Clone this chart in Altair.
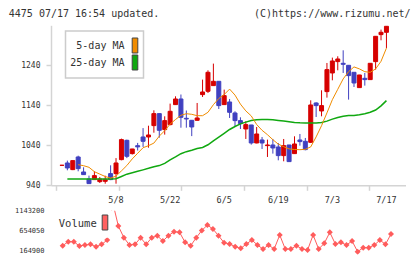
import altair as alt
import numpy as np
import pandas as pd

# Daily candles (oldest first)
opens = [990, 995.8, 979.2, 1010.8, 973.3, 955.8, 954.2, 949.2, 950, 969.2,
         969.2, 1004.2, 1052.5, 1019.2, 1039, 1060.8, 1060.8, 1089.2, 1119.2, 1079.2,
         1091.7, 1141.7, 1155.8, 1107.5, 1102.5, 1102.5, 1166.7, 1175, 1189.2, 1200,
         1141.7, 1148.3, 1120.8, 1101.7, 1080.8, 1090.8, 1045.8, 1053.3, 1039.2, 1040.8,
         1035.8, 1014.2, 1040.8, 1019.2, 1053.3, 1050, 1047.5, 1145.8, 1125.8, 1174.2,
         1220.8, 1249.2, 1245, 1240, 1222.5, 1184.2, 1207.5, 1204.2, 1249.2, 1316.7,
         1322.5]
highs = [991, 1001.7, 1002, 1014, 985, 964.2, 975, 960.8, 964, 990,
         1008, 1056.7, 1054, 1031, 1046, 1083, 1089, 1127.5, 1119.5, 1112.5,
         1144.2, 1162.5, 1167, 1127, 1103, 1145.8, 1204.2, 1227.5, 1244.2, 1200,
         1179.2, 1155.8, 1125, 1110, 1100, 1091, 1085.8, 1060.8, 1054.2, 1055.8,
         1045.8, 1055.8, 1041, 1062.5, 1068.3, 1058.3, 1152.5, 1147.5, 1177.5, 1245.8,
         1259.2, 1262.5, 1277.5, 1240, 1222.5, 1216, 1220.8, 1245, 1312.5, 1329.2,
         1337.5]
lows = [989, 977.5, 978, 975, 966, 944, 954, 945.8, 944, 953,
        944, 1002.5, 1008, 1017, 1027, 1036, 1034, 1071.5, 1059, 1066.7,
        1090, 1141, 1084, 1084, 1063, 1102, 1160.8, 1170.8, 1189, 1130.8,
        1141, 1108.3, 1087.5, 1080.8, 1055.8, 1041.7, 1045, 1030.8, 1010.8, 1019.2,
        1002.5, 1000, 999, 1019, 1039.2, 1027.5, 1045.8, 1110.8, 1112.5, 1159.2,
        1202.5, 1227.5, 1220.8, 1154.2, 1185.8, 1184, 1189.2, 1204, 1229.2, 1302.5,
        1283.3]
closes = [990, 983.3, 1001.7, 981.7, 966.7, 944.2, 964.2, 955.8, 955, 954.2,
          995.8, 1054.2, 1012.5, 1030.8, 1036, 1050, 1065.8, 1119.2, 1077.5, 1101.7,
          1125, 1155.8, 1110, 1105.8, 1085.8, 1108.3, 1173.3, 1222.5, 1200, 1139.2,
          1164.2, 1122.5, 1101.7, 1094.2, 1091.7, 1045.8, 1068.3, 1045.8, 1040.8, 1033.3,
          1014.2, 1039.2, 999.2, 1043.3, 1049.2, 1029.2, 1140.8, 1139.2, 1139.2, 1229.2,
          1250.8, 1255.8, 1242.5, 1214.2, 1195.8, 1215.8, 1204.2, 1245, 1312.5, 1322.5,
          1337.5]

# Moving averages
ma5 = [None, None, None, 991.5, 989, 985, 974, 968, 962, 958,
       963, 976, 989.5, 1006, 1020, 1034, 1039, 1045.5, 1063, 1076.5,
       1093, 1104.5, 1115, 1119, 1117.5, 1114, 1114, 1122.5, 1141.5, 1157,
       1167, 1180.5, 1165.5, 1143, 1126, 1113.5, 1092, 1077.5, 1066.5, 1054,
       1043, 1036.5, 1031, 1029.5, 1029, 1030, 1036, 1061, 1089, 1121,
       1154, 1180, 1206, 1224, 1236, 1231, 1224, 1222.5, 1231, 1250,
       1283]
ma25 = [None, 955.8, 955.8, 955.8, 955.8, 955.8, 955.8, 955.8, 955.8, 955.8,
        956.5, 962, 967.8, 971.3, 974.9, 978.6, 982.4, 986.6, 989.3, 994.8,
        1003.5, 1010.9, 1019, 1024.1, 1027.6, 1031.8, 1034.6, 1041.3, 1051.2, 1060.3,
        1069.7, 1079.5, 1087, 1093.5, 1098, 1102.2, 1103.8, 1104.2, 1104.2, 1103.8,
        1102.3, 1100.6, 1098.8, 1097.3, 1096.2, 1095.8, 1095.8, 1095.8, 1096.9, 1100.5,
        1105.4, 1109.6, 1112.6, 1114.2, 1114.6, 1116.2, 1119.1, 1122.7, 1128.2, 1138.5,
        1151.7]

# Daily volume
volume = [None, 287000, 385000, 385000, 279000, 303500, 319800, 262700, 319800, 425800,
          1340000, 768200, 482850, 303500, 319800, 482850, 319800, 482850, 531760, 401400,
          531760, 629600, 613300, 368700, 287000, 482850, 660000, 792600, 694800, 531760,
          360560, 328000, 262700, 222000, 328000, 425800, 303500, 205700, 303500, 205700,
          548100, 205700, 205700, 287000, 205700, 181200, 548100, 205700, 344200, 613300,
          328000, 368700, 303500, 401400, 140400, 238300, 238300, 303500, 425800, 319800,
          572600]

date_pos = [10, 20, 30, 40, 50, 60]
date_labels = ["5/8", "5/22", "6/5", "6/19", "7/3", "7/17"]
price_ticks = [940, 1040, 1140, 1240]
volume_ticks = [164900, 654050, 1143200]

MONO = "DejaVu Sans Mono"
AXIS_GRAY = "#d4d4d4"
TEXT = "#333333"
UP, DOWN = "#d60000", "#4040c0"
ORANGE, GREEN = "#f08c00", "#10a810"
VOL = "#ff5c5c"

W = 354.5
PRICE_H = 184.3
VOL_H = 44
X_DOMAIN = [-1.1, 62.6]

n = len(closes)
df = pd.DataFrame({
    "i": np.arange(n),
    "open": opens, "high": highs, "low": lows, "close": closes,
    "ma5": ma5, "ma25": ma25, "volume": volume,
})
df["dir"] = np.where(df["close"] >= df["open"], "up", "down")

x_ticks = list(np.linspace(X_DOMAIN[0], X_DOMAIN[1], 12))
x_scale = alt.Scale(domain=X_DOMAIN, nice=False, zero=False)
x_price = alt.X("i:Q", scale=x_scale,
                axis=alt.Axis(values=x_ticks, labels=False, grid=False, title=None,
                              domainColor=AXIS_GRAY, domainWidth=1.5,
                              tickColor=AXIS_GRAY, tickWidth=1.5, tickSize=5,
                              minExtent=20, maxExtent=20))
y_scale = alt.Scale(domain=[940, 1340], range=[PRICE_H, 24.3], nice=False, zero=False)
y_axis = alt.Axis(values=price_ticks, grid=False, title=None, format="d",
                  labelOverlap=False,
                  domainColor=AXIS_GRAY, domainWidth=1.5,
                  tickColor=AXIS_GRAY, tickWidth=1.5, tickSize=5,
                  labelFont=MONO, labelFontSize=8, labelColor=TEXT, labelPadding=6,
                  minExtent=50.5, maxExtent=50.5)
color = alt.Color("dir:N", scale=alt.Scale(domain=["up", "down"], range=[UP, DOWN]), legend=None)
stroke = alt.Stroke("dir:N", scale=alt.Scale(domain=["up", "down"], range=[UP, DOWN]), legend=None)

base = alt.Chart(df)
wicks = base.mark_rule(strokeWidth=1).encode(
    x=x_price, y=alt.Y("low:Q", scale=y_scale, axis=y_axis), y2="high:Q", color=color)
bodies = base.mark_bar(size=4, strokeWidth=1).encode(
    x="i:Q", y="open:Q", y2="close:Q", color=color, stroke=stroke)
line5 = base.mark_line(color=ORANGE, strokeWidth=1).encode(x="i:Q", y="ma5:Q")
line25 = base.mark_line(color=GREEN, strokeWidth=1.5).encode(x="i:Q", y="ma25:Q")

dates = alt.Chart(pd.DataFrame({"i": date_pos, "label": date_labels})).mark_text(
    font=MONO, fontSize=8.5, color=TEXT, baseline="middle").encode(
    x="i:Q", y=alt.value(198.5), text="label:N")

one = pd.DataFrame({"k": [0]})
header_left = alt.Chart(one).mark_text(
    font=MONO, fontSize=10, color=TEXT, align="left", baseline="middle",
    text="4475 07/17 16:54 updated.").encode(x=alt.value(-42.2), y=alt.value(12.7))
header_right = alt.Chart(one).mark_text(
    font=MONO, fontSize=10, color=TEXT, align="right", baseline="middle",
    text="(C)https://www.rizumu.net/").encode(x=alt.value(359.5), y=alt.value(12.7))

legend_box = alt.Chart(one).mark_rect(fill="white", stroke="#cccccc", strokeWidth=1.5).encode(
    x=alt.value(14.5), x2=alt.value(92.5), y=alt.value(30), y2=alt.value(77))
legend_items = pd.DataFrame({
    "name": ["5-day MA", "25-day MA"],
    "col": [ORANGE, GREEN],
    "yc": [45, 62], "y1": [37, 54], "y2": [52, 69],
})
legend_text = alt.Chart(legend_items).mark_text(
    font=MONO, fontSize=10, color=TEXT, align="right", baseline="middle").encode(
    x=alt.value(73.5), y=alt.Y("yc:Q", scale=None), text="name:N")
legend_swatch = alt.Chart(legend_items).mark_rect(stroke="#444444", strokeWidth=1).encode(
    x=alt.value(81.2), x2=alt.value(86.8),
    y=alt.Y("y1:Q", scale=None), y2="y2:Q",
    fill=alt.Fill("col:N", scale=None))

price = alt.layer(
    wicks, bodies, line25, line5, dates, header_left, header_right,
    legend_box, legend_text, legend_swatch,
).properties(width=W, height=PRICE_H)

# Volume panel
x_vol = alt.X("i:Q", scale=x_scale, axis=None)
y_vol = alt.Y("volume:Q",
              scale=alt.Scale(domain=[67070, 1143200], nice=False, zero=False),
              axis=None)
vbase = alt.Chart(df)
vline = vbase.mark_line(color=VOL, strokeWidth=1, clip=True).encode(x=x_vol, y=y_vol)
vpts = vbase.mark_point(shape="diamond", filled=True, size=36, color=VOL,
                        opacity=1, clip=True).encode(x="i:Q", y="volume:Q")
vlabels = alt.Chart(pd.DataFrame({"volume": volume_ticks})).mark_text(
    font=MONO, fontSize=7, color=TEXT, align="right", baseline="middle").encode(
    x=alt.value(-6.5), y="volume:Q", text=alt.Text("volume:Q", format="d"))
vbg = alt.Chart(one).mark_rect(fill="white").encode(
    x=alt.value(4.5), x2=alt.value(63), y=alt.value(0), y2=alt.value(27))
vtext = alt.Chart(one).mark_text(
    font=MONO, fontSize=10.5, color=TEXT, align="left", baseline="middle",
    text="Volume").encode(x=alt.value(7.8), y=alt.value(13.5))
vbox = alt.Chart(one).mark_rect(fill="#ff6060", stroke="#444444", strokeWidth=1).encode(
    x=alt.value(51.2), x2=alt.value(56.8), y=alt.value(4.3), y2=alt.value(19.3))

vol = alt.layer(vline, vpts, vlabels, vbg, vtext, vbox).properties(width=W, height=VOL_H)

chart = alt.vconcat(price, vol, spacing=24.7, bounds="flush").properties(
    padding={"left": 0, "top": 0, "right": 0, "bottom": 0},
    background="white",
).configure_view(stroke="transparent")

chart.save("out.html", embed_options={"renderer": "svg", "actions": False})
